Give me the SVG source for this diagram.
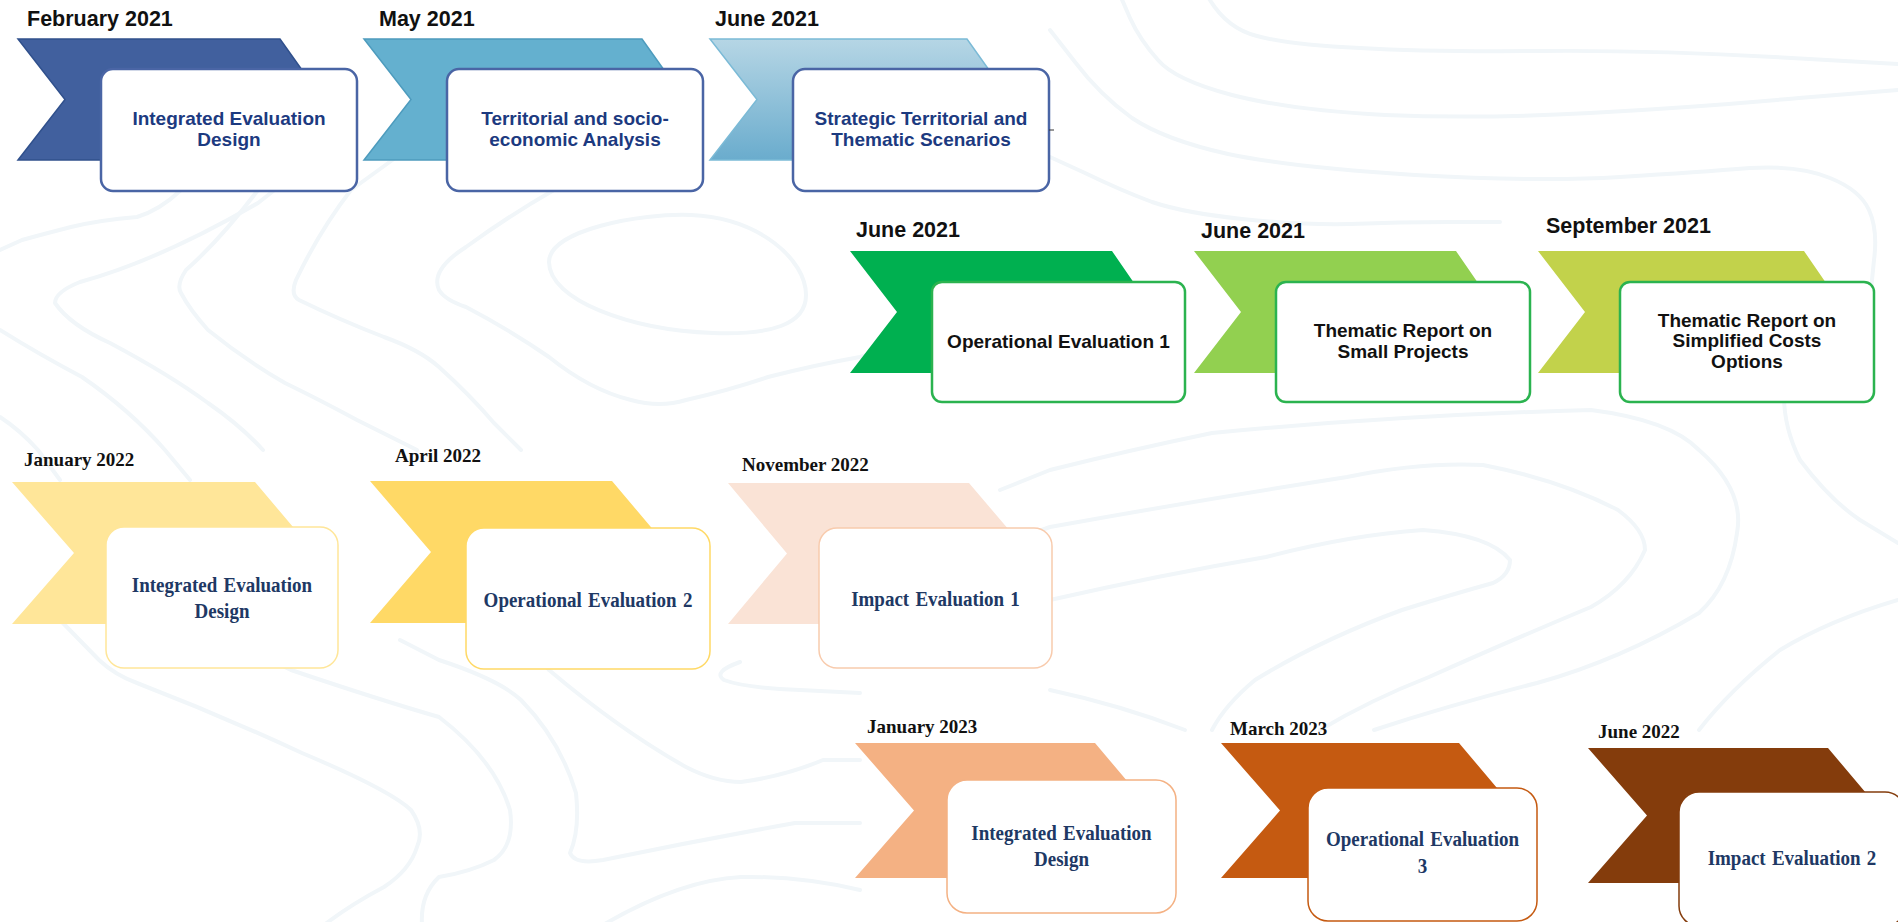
<svg xmlns="http://www.w3.org/2000/svg" width="1898" height="922" viewBox="0 0 1898 922">
<defs>
<linearGradient id="g3" x1="0" y1="0" x2="0" y2="1">
<stop offset="0" stop-color="#b6d6e5"/>
<stop offset="1" stop-color="#6aaccd"/>
</linearGradient>
<style>
.bg{fill:none;stroke:#f1f6f9;stroke-width:4;stroke-linecap:round;stroke-linejoin:round}
.date-s{font-family:"Liberation Sans",Arial,sans-serif;font-weight:bold;font-size:21.5px;fill:#111}
.date-r{font-family:"Liberation Serif","Times New Roman",serif;font-weight:bold;font-size:19px;fill:#111}
.t1{font-family:"Liberation Sans",Arial,sans-serif;font-weight:bold;font-size:19px;fill:#1c3a80;text-anchor:middle}
.t2{font-family:"Liberation Sans",Arial,sans-serif;font-weight:bold;font-size:19px;fill:#111;text-anchor:middle}
.t3{font-family:"Liberation Serif","Times New Roman",serif;font-weight:bold;font-size:19px;fill:#203864;text-anchor:middle;word-spacing:1.5px}
.b1{fill:#fff;stroke:#4a65a5;stroke-width:2.5}
.b2{fill:#fff;stroke:#2bb34f;stroke-width:2.5}
</style>
</defs>
<rect width="1898" height="922" fill="#fff"/>
<g id="background">
<path class="bg" d="M1207,-5 Q1225,28 1257,36 Q1290,45 1360,48 Q1430,52 1540,51 Q1650,50 1774,57 L1898,64"/>
<path class="bg" d="M1120,-5 L1130,18 Q1140,40 1158,60 Q1175,80 1232,95 Q1290,110 1385,115 Q1480,119 1590,113 Q1700,107 1799,98 L1898,90"/>
<path class="bg" d="M1050,30 L1075,62 Q1100,95 1132,118 Q1165,140 1228,154 Q1290,167 1415,175 Q1540,182 1620,177 Q1700,172 1750,168 Q1800,165 1830,178 Q1860,190 1869,210 Q1878,230 1874,260 L1870,300"/>
<path class="bg" d="M1050,157 L1085,173 Q1120,190 1152,202 Q1185,213 1242,219 Q1300,225 1350,224 Q1400,222 1450,222 L1500,222"/>
<path class="bg" d="M549,262 C549,230 640,213 691,215 C760,218 806,260 806,295 C806,325 770,335 713,333 C630,330 549,300 549,262 Z"/>
<path class="bg" d="M600,160 L554,190 Q510,215 466,247 Q430,270 439,290 Q445,300 466,307 Q510,330 549,357 Q590,390 631,400 Q660,408 686,400 Q730,390 768,377 Q815,365 860,357 L900,345"/>
<path class="bg" d="M420,140 L351,190 Q320,230 296,280 Q290,295 299,300 Q340,320 384,337 Q420,350 439,367 Q470,395 494,423 L521,450"/>
<path class="bg" d="M330,120 L258,190 Q220,240 186,270 Q176,285 181,293 Q190,310 208,330 Q245,360 285,383 Q320,400 357,420 L417,450"/>
<path class="bg" d="M250,150 L181,190 Q160,210 137,217 Q100,220 71,227 Q40,235 22,240 L0,250"/>
<path class="bg" d="M300,170 L258,203 Q160,260 80,282 Q55,292 55,303 Q70,325 110,343 Q170,375 208,403 Q240,425 263,450"/>
<path class="bg" d="M0,330 Q40,355 82,377 Q130,410 165,450 L190,480"/>
<path class="bg" d="M0,417 Q20,430 38,450 L60,480"/>
<path class="bg" d="M60,620 L99,660 Q115,675 137,683 Q220,715 302,753 Q390,790 411,810 Q425,830 417,847 Q410,870 384,887 Q350,905 324,925"/>
<path class="bg" d="M250,650 L291,670 Q380,700 439,717 Q495,760 510,810 Q515,845 494,860 Q470,872 439,877 Q420,895 422,925"/>
<path class="bg" d="M520,630 L549,670 Q620,730 686,767 Q715,782 741,782 Q785,776 823,760 L860,760"/>
<path class="bg" d="M400,640 L439,660 Q500,680 521,700 Q560,740 576,793 Q580,830 570,853 Q575,865 603,860 Q700,840 795,823 L860,823"/>
<path class="bg" d="M603,925 Q680,880 741,877 Q800,876 860,890"/>
<path class="bg" d="M740,662 Q712,672 724,680 Q745,688 800,690 L860,693"/>
<path class="bg" d="M1000,490 L1050,470 Q1130,450 1212,433 Q1400,415 1591,410 Q1670,420 1699,450 Q1745,490 1737,533 Q1730,585 1699,613 Q1620,660 1537,683 Q1450,705 1374,730"/>
<path class="bg" d="M1000,545 L1050,527 Q1200,500 1347,477 Q1420,462 1483,465 Q1560,480 1618,510 Q1645,530 1645,550 Q1630,585 1591,607 Q1500,645 1429,677 Q1370,700 1320,730"/>
<path class="bg" d="M1000,620 L1050,600 Q1160,575 1266,557 Q1350,535 1423,530 Q1490,535 1510,560 Q1510,575 1493,583 Q1450,595 1402,610 Q1320,640 1255,680 Q1225,705 1212,730"/>
<path class="bg" d="M1785,380 Q1780,420 1800,460 Q1830,500 1860,520 L1898,543"/>
<path class="bg" d="M1898,600 Q1830,620 1780,650 Q1730,690 1699,730"/>
<path class="bg" d="M1050,690 Q1120,705 1185,730"/>
</g>
<g id="node-feb-2021">
<path d="M18,39 H280 L323,99.5 L280,160 H18 L65,99.5 Z" fill="#41609e" stroke="#30508c" stroke-width="1.5"/>
<rect class="b1" x="101" y="69" width="256" height="122" rx="12"/>
<text class="date-s" x="27" y="26">February 2021</text>
<text class="t1" x="229" y="125">Integrated Evaluation</text>
<text class="t1" x="229" y="146">Design</text>
</g>
<g id="node-may-2021">
<path d="M364,39 H642 L685,99.5 L642,160 H364 L411,99.5 Z" fill="#64b0cf" stroke="#4d9bbd" stroke-width="1.5"/>
<rect class="b1" x="447" y="69" width="256" height="122" rx="12"/>
<text class="date-s" x="379" y="26">May 2021</text>
<text class="t1" x="575" y="125">Territorial and socio-</text>
<text class="t1" x="575" y="146">economic Analysis</text>
</g>
<g id="node-jun-2021-a">
<path d="M710,39 H967 L1010,99.5 L967,160 H710 L757,99.5 Z" fill="url(#g3)" stroke="#7bbad6" stroke-width="1.5"/>
<rect class="b1" x="793" y="69" width="256" height="122" rx="12"/>
<line x1="1049" y1="130" x2="1054" y2="130" stroke="#333" stroke-width="1"/>
<text class="date-s" x="715" y="26">June 2021</text>
<text class="t1" x="921" y="125">Strategic Territorial and</text>
<text class="t1" x="921" y="146">Thematic Scenarios</text>
</g>
<g id="node-jun-2021-b">
<path d="M850,251 H1112 L1154,312 L1112,373 H850 L897,312 Z" fill="#00b050"/>
<rect class="b2" x="932" y="282" width="253" height="120" rx="10"/>
<text class="date-s" x="856" y="237">June 2021</text>
<text class="t2" x="1058.5" y="348">Operational Evaluation 1</text>
</g>
<g id="node-jun-2021-c">
<path d="M1194,251 H1456 L1498,312 L1456,373 H1194 L1241,312 Z" fill="#92d050"/>
<rect class="b2" x="1276" y="282" width="254" height="120" rx="10"/>
<text class="date-s" x="1201" y="238">June 2021</text>
<text class="t2" x="1403" y="337">Thematic Report on</text>
<text class="t2" x="1403" y="358">Small Projects</text>
</g>
<g id="node-sep-2021">
<path d="M1538,251 H1804 L1846,312 L1804,373 H1538 L1585,312 Z" fill="#c2d24b"/>
<rect class="b2" x="1620" y="282" width="254" height="120" rx="10"/>
<text class="date-s" x="1546" y="233">September 2021</text>
<text class="t2" x="1747" y="327">Thematic Report on</text>
<text class="t2" x="1747" y="347">Simplified Costs</text>
<text class="t2" x="1747" y="368">Options</text>
</g>
<g id="node-jan-2022">
<path d="M12,482 H255 L315,553 L255,624 H12 L74,553 Z" fill="#ffe699"/>
<rect x="106" y="527" width="232" height="141" rx="18" fill="#fff" stroke="#ffe699" stroke-width="1.5"/>
<text class="date-r" x="24" y="466">January 2022</text>
<text class="t3" transform="translate(222,592) scale(1,1.15)">Integrated Evaluation</text>
<text class="t3" transform="translate(222,618) scale(1,1.15)">Design</text>
</g>
<g id="node-apr-2022">
<path d="M370,481 H612 L672,552 L612,623 H370 L431,552 Z" fill="#ffd966"/>
<rect x="466" y="528" width="244" height="141" rx="18" fill="#fff" stroke="#ffd966" stroke-width="1.5"/>
<text class="date-r" x="395" y="462">April 2022</text>
<text class="t3" transform="translate(588,607) scale(1,1.15)">Operational Evaluation 2</text>
</g>
<g id="node-nov-2022">
<path d="M728,483 H969 L1029,553.5 L969,624 H728 L787,553.5 Z" fill="#fae3d6"/>
<rect x="819" y="528" width="233" height="140" rx="18" fill="#fff" stroke="#f8cbad" stroke-width="1.5"/>
<text class="date-r" x="742" y="471">November 2022</text>
<text class="t3" transform="translate(935.5,606) scale(1,1.15)">Impact Evaluation 1</text>
</g>
<g id="node-jan-2023">
<path d="M855,743 H1095 L1152,810.5 L1095,878 H855 L914,810.5 Z" fill="#f4b183"/>
<rect x="947" y="780" width="229" height="133" rx="20" fill="#fff" stroke="#f4b183" stroke-width="1.5"/>
<text class="date-r" x="867" y="733">January 2023</text>
<text class="t3" transform="translate(1061.5,840) scale(1,1.15)">Integrated Evaluation</text>
<text class="t3" transform="translate(1061.5,866) scale(1,1.15)">Design</text>
</g>
<g id="node-mar-2023">
<path d="M1221,743 H1459 L1516,810.5 L1459,878 H1221 L1280,810.5 Z" fill="#c55a11"/>
<rect x="1308" y="788" width="229" height="133" rx="20" fill="#fff" stroke="#c55a11" stroke-width="1.5"/>
<text class="date-r" x="1230" y="735">March 2023</text>
<text class="t3" transform="translate(1422.5,846) scale(1,1.15)">Operational Evaluation</text>
<text class="t3" transform="translate(1422.5,873) scale(1,1.15)">3</text>
</g>
<g id="node-jun-2022">
<path d="M1588,748 H1828 L1885,815.5 L1828,883 H1588 L1647,815.5 Z" fill="#843c0c"/>
<rect x="1679" y="792" width="226" height="134" rx="20" fill="#fff" stroke="#843c0c" stroke-width="1.5"/>
<text class="date-r" x="1598" y="738">June 2022</text>
<text class="t3" transform="translate(1792,865) scale(1,1.15)">Impact Evaluation 2</text>
</g>
</svg>
